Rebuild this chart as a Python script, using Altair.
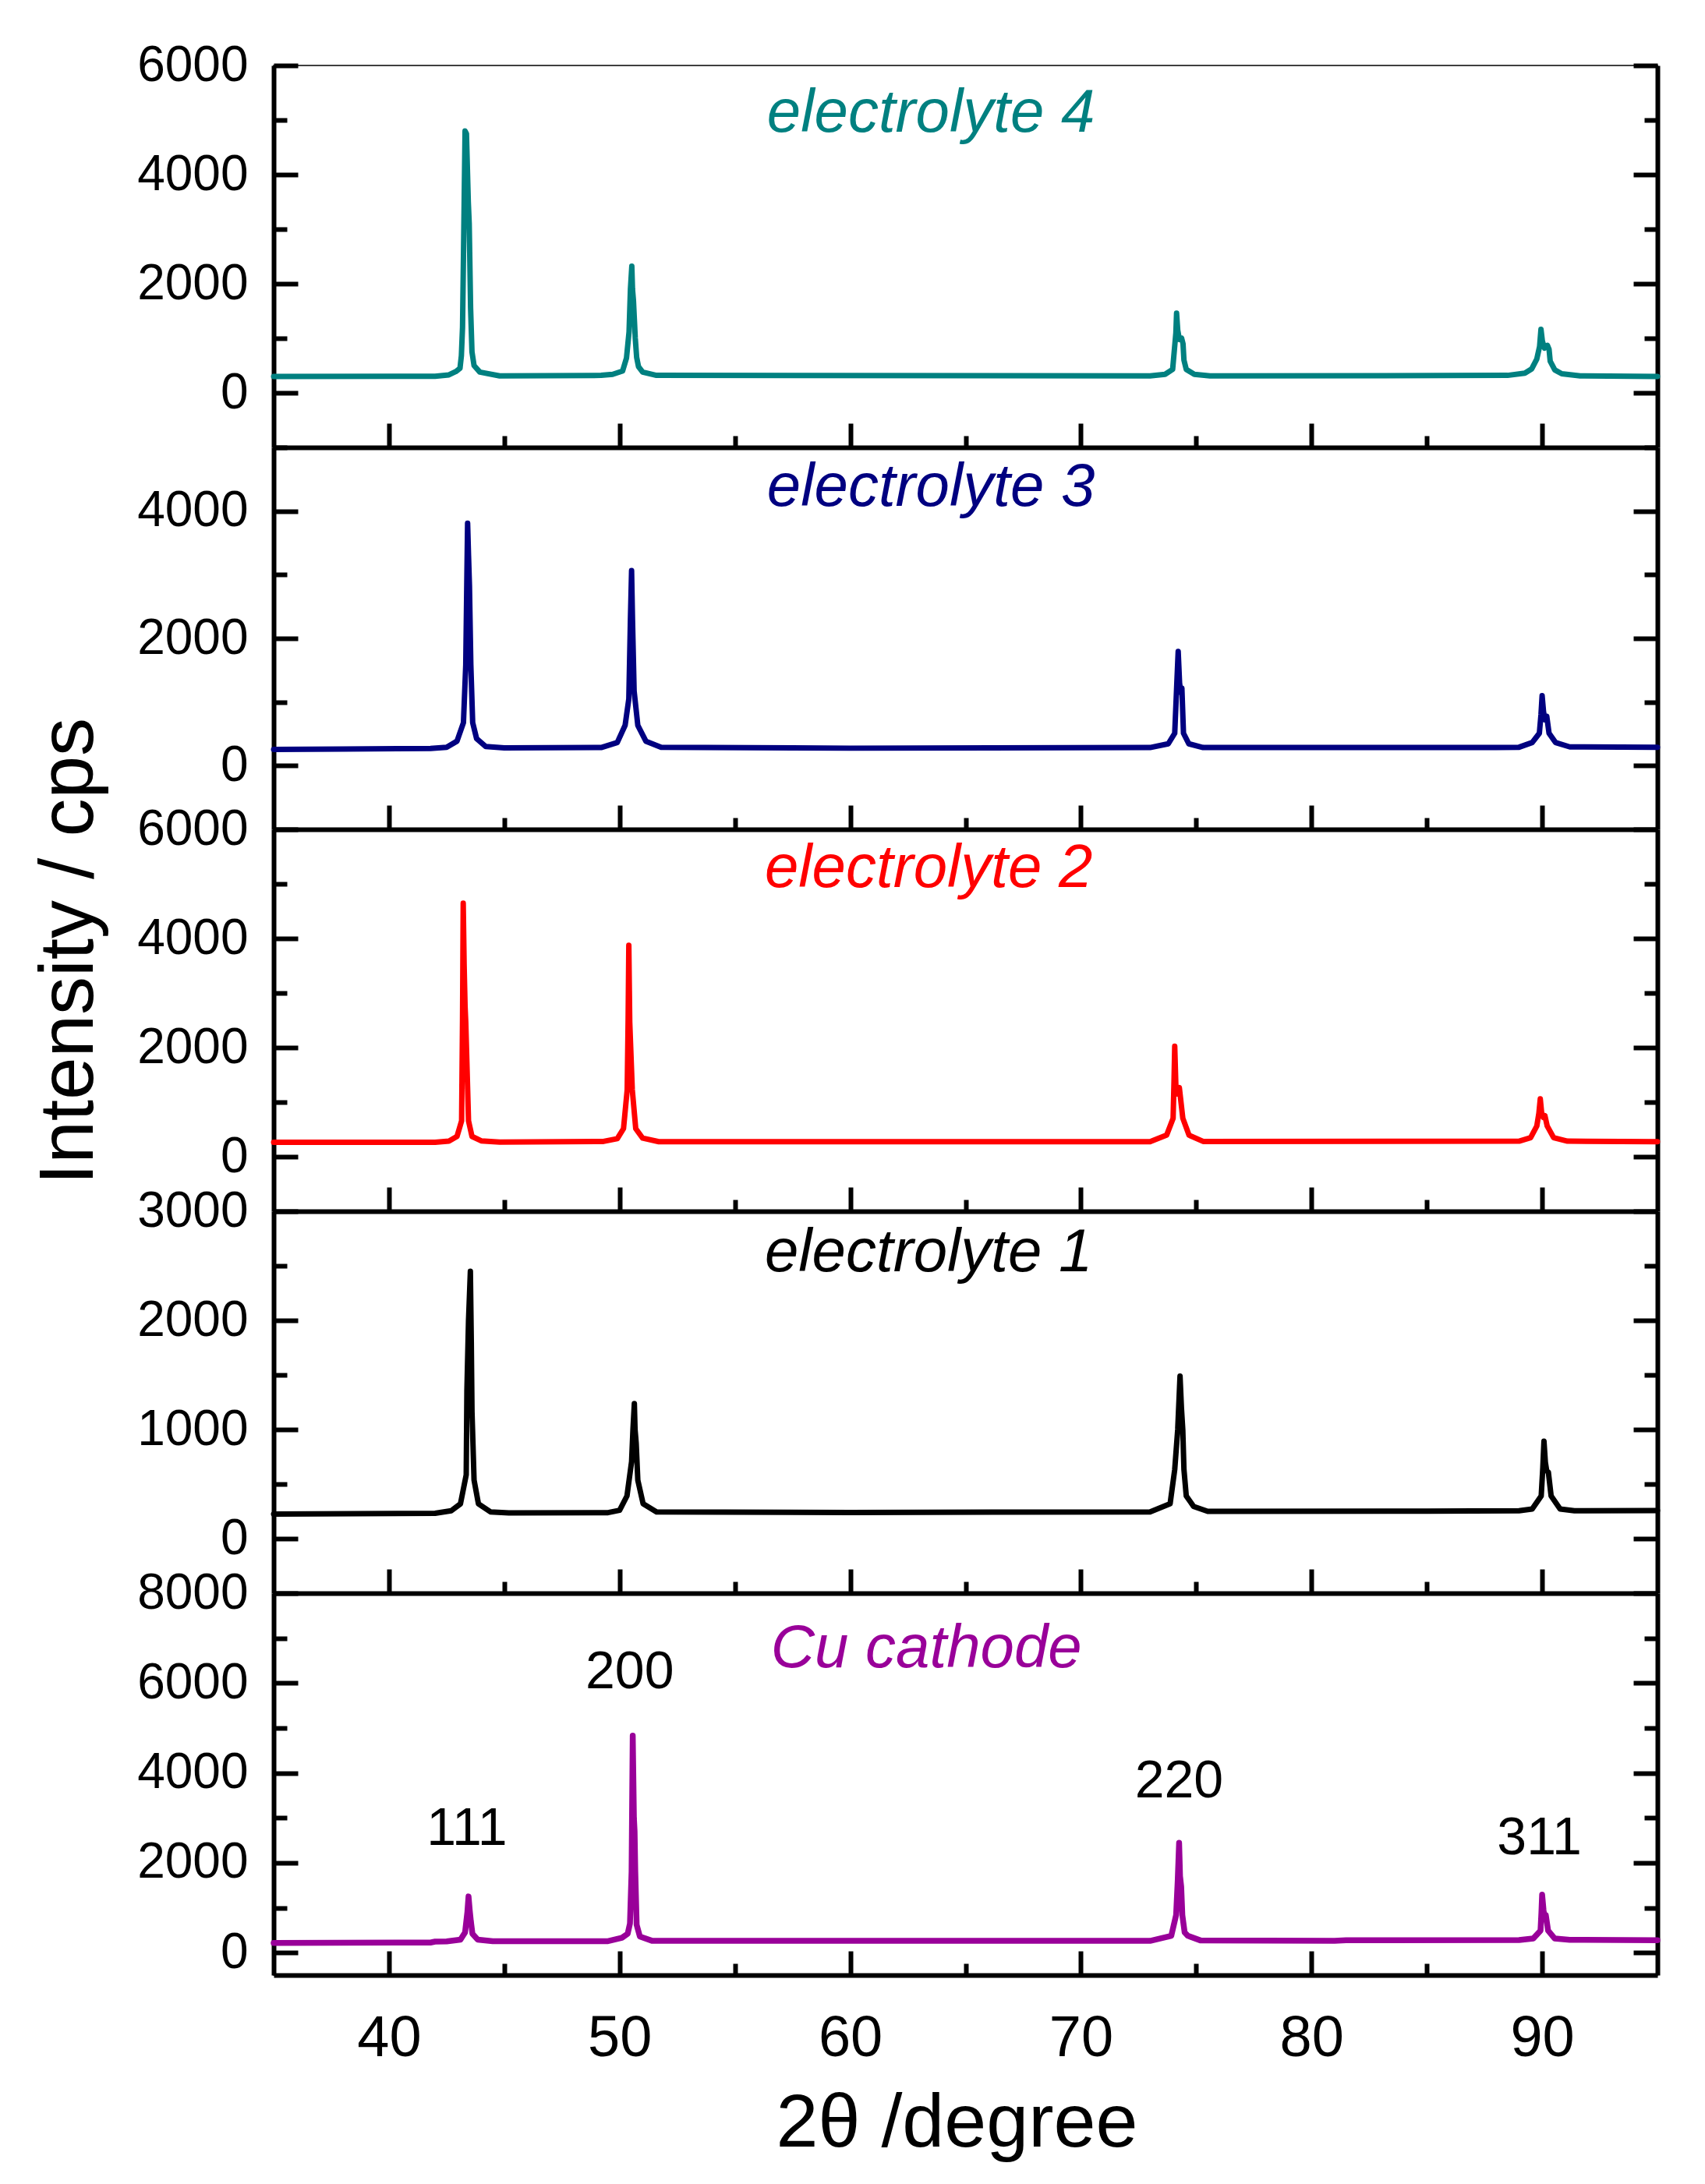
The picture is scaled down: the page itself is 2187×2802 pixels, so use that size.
import altair as alt
import pandas as pd

FONT = "Liberation Sans"

# ---------------- data ----------------
series_names = ["electrolyte 4", "electrolyte 3", "electrolyte 2", "electrolyte 1", "Cu cathode"]
series_colors = ["#008080", "#000080", "#ff0000", "#000000", "#990099"]

el4_x = [35, 42.0, 42.6, 42.9, 43.08, 43.14, 43.19, 43.24, 43.3, 43.36, 43.44, 43.48, 43.54, 43.6, 43.69, 43.94, 44.8,
         49.2, 49.7, 50.13, 50.3, 50.41, 50.47, 50.53, 50.56, 50.6, 50.64, 50.68, 50.74, 50.82, 51.0, 51.6,
         73.0, 73.65, 73.98, 74.12, 74.15, 74.2, 74.27, 74.37, 74.43, 74.47, 74.57, 74.92, 75.6,
         88.5, 89.25, 89.55, 89.77, 89.89, 89.95, 90.01, 90.1, 90.23, 90.3, 90.35, 90.55, 90.85, 91.65, 95]
el4_y = [300, 305, 330, 390, 450, 680, 1200, 2800, 4800, 4750, 3500, 3100, 1550, 750, 500, 380, 310,
         320, 340, 400, 640, 1115, 1900, 2320, 1900, 1700, 1350, 1000, 650, 480, 380, 320,
         310, 340, 430, 1100, 1460, 1150, 980, 1000, 900, 600, 430, 340, 310,
         320, 360, 440, 620, 850, 1165, 950, 820, 870, 800, 580, 420, 350, 310, 300]

el3_x = [35, 38, 41.8, 42.5, 42.95, 43.23, 43.33, 43.38, 43.41, 43.45, 43.49, 43.55, 43.63, 43.8, 44.2, 45.0,
         49.2, 49.9, 50.24, 50.4, 50.47, 50.52, 50.56, 50.63, 50.79, 51.14, 51.8, 60,
         73.0, 73.79, 74.07, 74.15, 74.22, 74.28, 74.33, 74.38, 74.45, 74.68, 75.3, 88.0,
         89.0, 89.57, 89.88, 89.95, 90.0, 90.06, 90.12, 90.2, 90.3, 90.58, 91.2, 95]
el3_y = [255, 262, 270, 290, 385, 675, 1586, 3000, 3810, 3300, 2830, 1586, 675, 426, 300, 280,
         285, 364, 634, 1048, 2300, 3065, 2290, 1172, 634, 385, 290, 275,
         285, 344, 509, 1200, 1795, 1300, 1150, 1222, 509, 344, 285, 285,
         290, 364, 509, 800, 1100, 850, 720, 778, 509, 364, 295, 290]

el2_x = [35, 42.0, 42.6, 42.95, 43.15, 43.19, 43.22, 43.26, 43.3, 43.33, 43.45, 43.6, 44.0, 44.8,
         49.3, 49.9, 50.17, 50.33, 50.37, 50.4, 50.44, 50.55, 50.7, 51.0, 51.7,
         73.0, 73.72, 74.0, 74.04, 74.07, 74.12, 74.18, 74.27, 74.42, 74.69, 75.3,
         89.0, 89.5, 89.77, 89.86, 89.92, 89.98, 90.05, 90.12, 90.22, 90.5, 91.1, 95]
el2_y = [265, 265, 285, 371, 657, 2500, 4645, 3500, 2752, 2467, 657, 371, 290, 268,
         280, 330, 514, 1229, 2500, 3875, 2467, 1229, 514, 340, 275,
         275, 395, 705, 1400, 2025, 1300, 1150, 1267, 705, 395, 280,
         285, 348, 562, 800, 1060, 800, 720, 752, 562, 348, 285, 275]

el1_x = [35, 42.0, 42.7, 43.1, 43.35, 43.38, 43.45, 43.53, 43.57, 43.6, 43.69, 43.88, 44.4, 45.2,
         49.5, 50.0, 50.32, 50.52, 50.58, 50.64, 50.67, 50.72, 50.79, 51.02, 51.6, 60,
         73.0, 73.87, 74.07, 74.2, 74.3, 74.36, 74.42, 74.47, 74.57, 74.89, 75.5, 85,
         89.0, 89.57, 89.96, 90.03, 90.08, 90.14, 90.2, 90.27, 90.39, 90.78, 91.4, 95]
el1_y = [225, 232, 255, 319, 585, 1357, 2000, 2450, 1800, 1164, 536, 319, 245, 235,
         238, 260, 391, 705, 1000, 1238, 1000, 874, 536, 319, 245, 240,
         245, 319, 633, 1000, 1490, 1200, 995, 633, 391, 295, 250, 252,
         255, 271, 391, 650, 893, 700, 620, 609, 391, 271, 255, 258]

cu_x = [35, 41.8, 42.0, 42.5, 43.1, 43.3, 43.4, 43.45, 43.5, 43.55, 43.62, 43.85, 44.5,
        49.5, 50.1, 50.35, 50.45, 50.52, 50.57, 50.62, 50.65, 50.68, 50.74, 50.88, 51.4,
        73.0, 73.92, 74.13, 74.2, 74.26, 74.3, 74.35, 74.4, 74.5, 74.64, 75.2, 81.0, 81.5,
        89.0, 89.62, 89.93, 89.97, 90.0, 90.06, 90.1, 90.16, 90.26, 90.54, 91.2, 95]
cu_y = [215, 225, 245, 250, 290, 450, 900, 1250, 950, 700, 420, 290, 255,
        255, 330, 420, 650, 1800, 4830, 3000, 2700, 1800, 620, 360, 265,
        262, 375, 837, 1600, 2445, 1700, 1471, 837, 450, 375, 270, 265, 275,
        280, 317, 490, 900, 1290, 950, 800, 837, 490, 317, 285, 278]

series_x = [el4_x, el3_x, el2_x, el1_x, cu_x]
series_y = [el4_y, el3_y, el2_y, el1_y, cu_y]

# y-axis ranges, tick values and major-tick step of each panel
y_domains = [[-1000, 6000], [-1000, 5000], [-1000, 6000], [-500, 3000], [-500, 8000]]
y_ticks = [list(range(0, 6001, 1000)), list(range(0, 5001, 1000)), list(range(0, 6001, 1000)),
           list(range(0, 3001, 500)), list(range(0, 8001, 1000))]
y_major = [2000, 2000, 2000, 1000, 2000]

# panel name positions (2theta, intensity)
name_x = [63.5, 63.5, 63.4, 63.4, 63.3]
name_y = [4792, 4079, 4943, 2449, 6347]

# Miller index labels of the Cu cathode panel
hkl_text = ["111", "200", "220", "311"]
hkl_x = [43.38, 50.44, 74.26, 89.88]
hkl_y = [2395, 5886, 3462, 2193]

x_domain = [35, 95]
x_ticks = [40, 45, 50, 55, 60, 65, 70, 75, 80, 85, 90]
x_title = "2θ /degree"
y_title = "Intensity / cps"

W, H = 1775, 490
TICK_W = 6
DOMAIN_W = 6

xs = alt.Scale(domain=x_domain, nice=False, zero=False)


def x_axis(last):
    return alt.Axis(
        values=x_ticks, orient="bottom",
        tickSize={"expr": "datum.value % 10 === 0 ? -31 : -15"},
        tickWidth=TICK_W, tickColor="black",
        domainColor="black", domainWidth=DOMAIN_W, grid=False,
        labels=last, labelExpr="datum.value % 10 === 0 ? datum.label : ''",
        labelFont=FONT, labelFontSize=74, labelColor="black",
        labelPadding=76, labelFlush=False, labelOverlap=False, format="d",
        title=x_title if last else "", titleFont=FONT, titleFontSize=97,
        titleFontWeight="normal", titleColor="black",
        titleX=876, titleY=219, titleBaseline="alphabetic", titleAlign="center",
    )


panels = []
for i in range(5):
    last = i == 4
    major = y_major[i]
    ys = alt.Scale(domain=y_domains[i], nice=False, zero=False)
    tick_expr = {"expr": f"datum.value % {major} === 0 ? -31 : -17"}
    left_kwargs = dict(
        values=y_ticks[i], orient="left", tickSize=tick_expr, tickWidth=TICK_W, tickColor="black",
        domainColor="black", domainWidth=DOMAIN_W, grid=False,
        labelExpr=f"datum.value % {major} === 0 ? datum.label : ''",
        labelFont=FONT, labelFontSize=64, labelColor="black", labelPadding=64,
        labelFlush=False, labelOverlap=False, format="d",
        title=y_title if i == 2 else "", titleFont=FONT, titleFontSize=98,
        titleFontWeight="normal", titleColor="black",
    )
    if i == 2:
        left_kwargs.update(titleAngle=270, titleX=-233, titleY=156,
                           titleBaseline="alphabetic", titleAlign="center")
    y_left = alt.Axis(**left_kwargs)
    y_right = alt.Axis(values=y_ticks[i], orient="right", tickSize=tick_expr, tickWidth=TICK_W,
                       tickColor="black", domainColor="black", domainWidth=DOMAIN_W, grid=False,
                       labels=False, title="")

    df = pd.DataFrame({"x": series_x[i], "y": series_y[i]})
    line = alt.Chart(df).mark_line(
        color=series_colors[i], strokeWidth=7.5 if last else 7,
        strokeJoin="round", strokeCap="round",
    ).encode(
        x=alt.X("x:Q", scale=xs, axis=x_axis(last)),
        y=alt.Y("y:Q", scale=ys, axis=y_left),
    )

    ndf = pd.DataFrame({"x": [name_x[i]], "y": [name_y[i]], "t": [series_names[i]]})
    name = alt.Chart(ndf).mark_text(
        font=FONT, fontSize=78, fontStyle="italic", color=series_colors[i],
        align="center", baseline="alphabetic",
    ).encode(
        x=alt.X("x:Q", scale=xs, axis=x_axis(last)),
        y=alt.Y("y:Q", scale=ys, axis=y_right),
        text="t:N",
    )
    layers = [line, name]
    if last:
        hdf = pd.DataFrame({"x": hkl_x, "y": hkl_y, "t": hkl_text})
        hkl = alt.Chart(hdf).mark_text(
            font=FONT, fontSize=68, color="black", align="center", baseline="alphabetic",
        ).encode(
            x=alt.X("x:Q", scale=xs, axis=x_axis(last)),
            y=alt.Y("y:Q", scale=ys, axis=None),
            text="t:N",
        )
        layers.append(hkl)
    panel = alt.layer(*layers).resolve_axis(y="independent").properties(width=W, height=H)
    panels.append(panel)

chart = alt.vconcat(*panels, spacing=0, bounds="flush").configure_view(
    stroke="black", strokeWidth=1.5
).properties(
    padding={"left": 31, "top": 43, "right": 20, "bottom": 20},
    background="white",
)

chart.save("out.html", embed_options={"renderer": "svg", "actions": False})
